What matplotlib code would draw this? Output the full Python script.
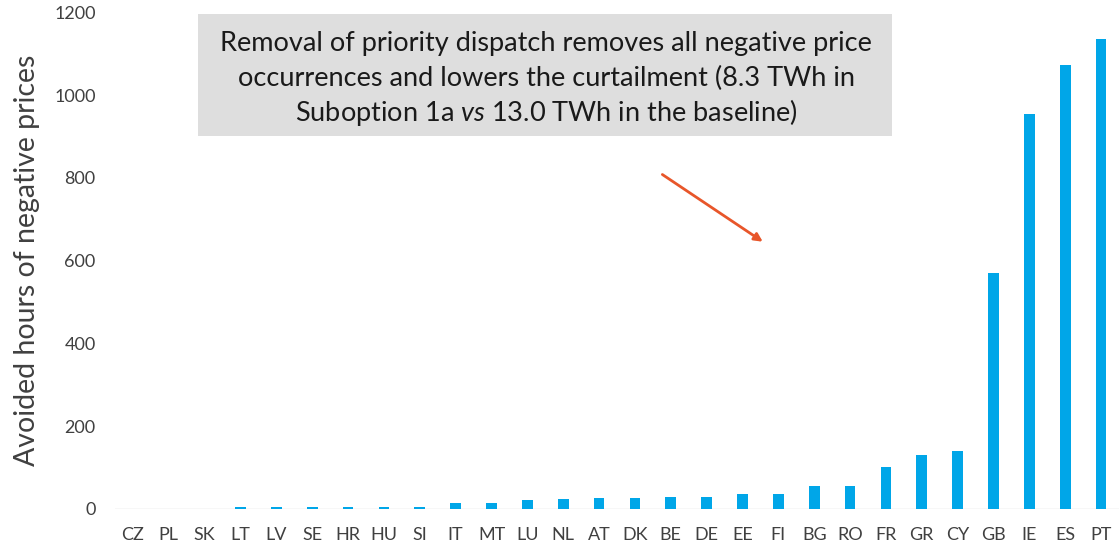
import matplotlib.pyplot as plt
import matplotlib.patches as patches

countries = ['CZ', 'PL', 'SK', 'LT', 'LV', 'SE', 'HR', 'HU', 'SI', 'IT', 'MT', 'LU', 'NL', 'AT',
             'DK', 'BE', 'DE', 'EE', 'FI', 'BG', 'RO', 'FR', 'GR', 'CY', 'GB', 'IE', 'ES', 'PT']
avoided_hours = [0, 0, 0, 5, 5, 5, 5, 5, 5, 14, 14, 21, 23, 26,
                 26, 28, 28, 35, 35, 55, 55, 100, 129, 140, 571, 955, 1074, 1136]

box_lines = ['Removal of priority dispatch removes all negative price',
             'occurrences and lowers the curtailment (8.3 TWh in',
             r'Suboption 1a $\mathit{vs}$ 13.0 TWh in the baseline)']

plt.rcParams['font.family'] = ['Lato', 'DejaVu Sans']
plt.rcParams['mathtext.fontset'] = 'custom'
plt.rcParams['mathtext.it'] = 'Lato:italic'
plt.rcParams['mathtext.rm'] = 'Lato'

fig = plt.figure(figsize=(11.19, 5.45), dpi=100)
ax = fig.add_axes([0.1028, 0.0666, 0.8972, 0.9104])

x = range(len(countries))
ax.bar(x, avoided_hours, width=0.3, color='#00a6e8', zorder=2)
ax.set_xlim(-0.5, len(countries) - 0.5)
ax.set_ylim(0, 1200)
ax.set_yticks(range(0, 1201, 200))
ax.set_xticks(list(x))
ax.set_xticklabels(countries)
ax.tick_params(axis='x', length=0, pad=13, labelsize=13, labelcolor='#404040')
ax.tick_params(axis='y', length=0, pad=14, labelsize=13, labelcolor='#404040')
for s in ['top', 'right', 'left', 'bottom']:
    ax.spines[s].set_visible(False)
ax.axhline(0, color='#d9d9d9', lw=1, zorder=1)
ax.set_ylabel('Avoided hours of negative prices', fontsize=20.5, color='#404040', labelpad=10)

# annotation box
fig.patches.append(patches.Rectangle((198 / 1119, 1 - 136 / 545), 694 / 1119, 122 / 545,
                                     transform=fig.transFigure, facecolor='#dedede',
                                     edgecolor='none', zorder=0))
for i, line in enumerate(box_lines):
    fig.text(546 / 1119, 1 - (43 + i * 35) / 545, line, ha='center', va='center',
             fontsize=19.5, color='#1a1a1a')

ax.annotate('', xy=(17.63, 642), xytext=(14.7, 812),
            arrowprops=dict(arrowstyle='-|>', color='#e8562a', lw=2, mutation_scale=12))

fig.savefig('out.png', dpi=100)
